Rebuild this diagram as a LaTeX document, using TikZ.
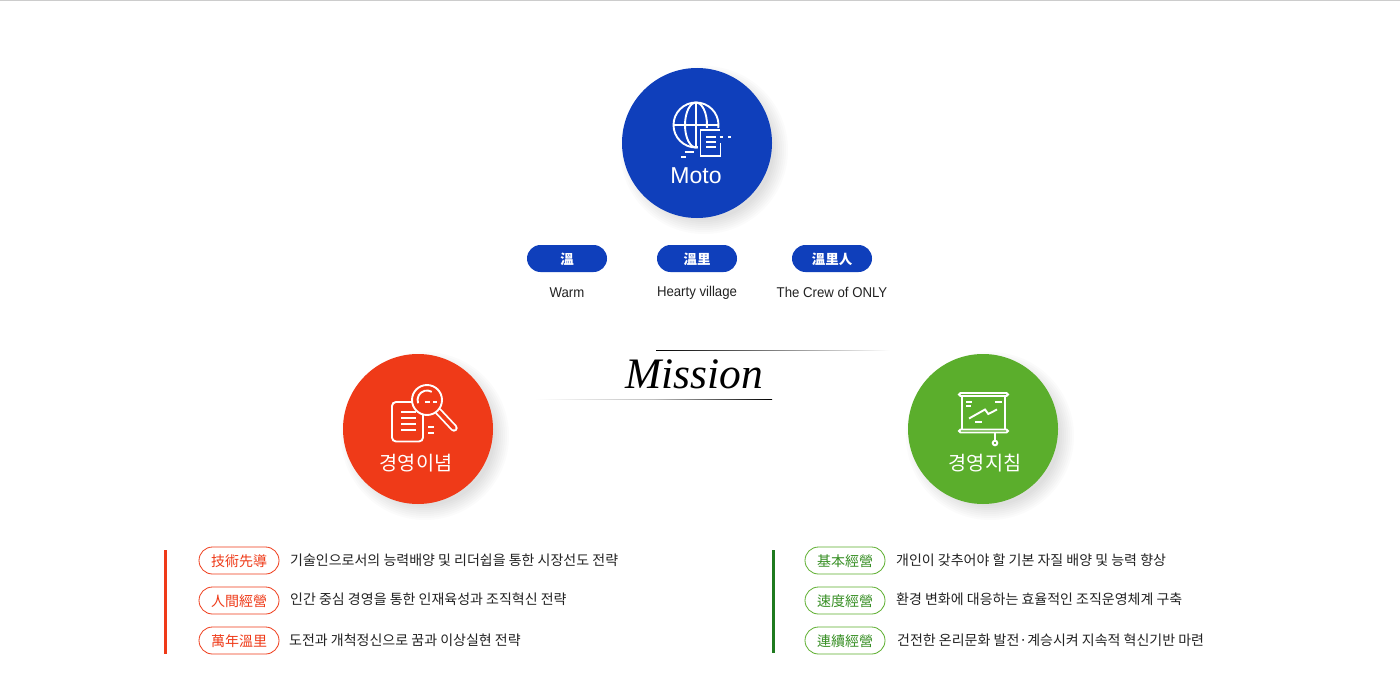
\documentclass[tikz,border=0pt]{standalone}
\usepackage{fontspec}
\setmainfont{Liberation Sans}
\newfontfamily\krfont{Noto Sans CJK KR}
\newfontfamily\misfont{Liberation Serif}
\newfontfamily\capfont[FakeStretch=0.93]{Liberation Sans}
\definecolor{mblue}{HTML}{0F3FBB}
\definecolor{mred}{HTML}{EF3A18}
\definecolor{mgreen}{HTML}{5BAE2C}
\definecolor{dgreen}{HTML}{1F7A1F}
\definecolor{tdark}{HTML}{222222}
\newcommand{\softshadow}[1]{%
  \foreach \rr in {70,72,...,84}{\fill[black,opacity=.016] ($(#1)+(7,7)$) circle[radius=\rr];}}
\usetikzlibrary{calc}
\tikzset{
  x=1pt,y=-1pt,
  bigcircle/.style={circle,minimum size=150pt,inner sep=0pt},
  title/.style={text=white,inner sep=0pt,font=\krfont\fontsize{19.7}{22}\selectfont},
  toppill/.style={rounded corners=13.5pt,fill=mblue,minimum width=80pt,minimum height=27pt,inner sep=0pt,text height=13.5pt,text depth=1.3pt,text=white,font=\krfont\bfseries\fontsize{13.5}{15}\selectfont},
  caption/.style={anchor=base,text=tdark,inner sep=0pt,font=\capfont\fontsize{14.2}{16}\selectfont},
  redpill/.style={rounded corners=13.5pt,draw=mred,fill=white,line width=.8pt,minimum width=80pt,minimum height=27pt,inner sep=0pt,text height=14pt,text depth=1.4pt,text=mred,font=\krfont\fontsize{14}{16}\selectfont},
  greenpill/.style={redpill,draw=mgreen,text=dgreen!60!mgreen},
  listtext/.style={anchor=west,text=tdark,inner sep=0pt,font=\krfont\fontsize{14}{16}\selectfont},
  ico/.style={draw=white,line width=1.9pt,fill=none},
  icod/.style={draw=white,line width=1.9pt},
}
\begin{document}
\begin{tikzpicture}
\useasboundingbox (0,0) rectangle (1400,677);
\fill[white] (0,0) rectangle (1400,677);
\fill[black!20] (0,0) rectangle (1400,1);
% circles
\coordinate (cmoto) at (697,143);
\coordinate (cred) at (418,429);
\coordinate (cgreen) at (983,429);
\softshadow{cmoto}\softshadow{cred}\softshadow{cgreen}
\node[bigcircle,fill=mblue] (moto) at (cmoto) {};
\node[bigcircle,fill=mred] (philo) at (cred) {};
\node[bigcircle,fill=mgreen] (guide) at (cgreen) {};
% globe icon
\coordinate (gl) at (696,125);
\draw[ico] (gl) circle[radius=22.5];
\draw[ico] (gl) circle[x radius=11,y radius=22.5];
\draw[ico] (696,102.5) -- (696,147.5);
\draw[ico] (673.5,125) -- (718.5,125);
\fill[mblue] (698,128) rectangle (724,160);
\draw[ico] (720,130) -- (700.5,130) -- (700.5,156) -- (720.5,156) -- (720.5,143);
\foreach \yy in {137,142,147}{\draw[icod] (706,\yy) -- (716,\yy);}
\draw[icod] (719.5,137) -- (722.5,137);
\draw[icod] (728,137) -- (731,137);
\draw[icod] (684.5,152) -- (694,152);
\draw[icod] (681,157) -- (686,157);
% magnifier icon
\draw[ico,rounded corners=4pt] (412,402) -- (392,402) -- (392,441.5) -- (423,441.5) -- (423,414);
\foreach \yy in {412,418,424,430}{\draw[icod] (401,\yy) -- (415.5,\yy);}
\draw[icod] (428,427) -- (434,427);
\draw[icod] (428,433) -- (434,433);
\draw[white,line width=7.4pt,line cap=round] (438,411) -- (454,428);
\draw[mred,line width=3.8pt,line cap=round] (438,411) -- (454,428);
\coordinate (mag) at (427,400);
\draw[ico,fill=mred] (mag) circle[radius=15];
\draw[ico] (mag) ++(-60:9.5) arc[start angle=-60,end angle=-200,radius=9.5];
\draw[icod] (425,402) -- (430,402);
\draw[icod] (433,402) -- (437,402);
% screen icon
\draw[ico] (962,396) -- (962,429) (1005,396) -- (1005,429);
\draw[ico,fill=mgreen,rounded corners=1.5pt] (959,393) rectangle (1008,396);
\draw[ico,fill=mgreen,rounded corners=1.5pt] (959,429.5) rectangle (1008,432.5);
\draw[ico] (995,433) -- (995,440.5);
\draw[ico] (995,443) circle[radius=2.3];
\draw[ico] (969,418.5) -- (985,409.5) -- (988.3,414) -- (997,409.5);
\draw[icod] (966,402) -- (972,402);
\draw[icod] (966,406) -- (971,406);
\draw[icod] (995,402) -- (1002,402);
\draw[icod] (975,422) -- (981.5,422);
% titles
\node[text=white,inner sep=0pt,font=\fontsize{23}{26}\selectfont] (motolabel) at (696,176) {Moto};
\node[title] (philolabel) at (416,463) {경영이념};
\node[title] (guidelabel) at (985,463) {경영지침};
% top pills
\node[toppill] (p1) at (567,258.5) {溫};
\node[toppill] (p2) at (697,258.5) {溫里};
\node[toppill] (p3) at (832,258.5) {溫里人};
\node[caption] (c1) at (567,297) {Warm};
\node[caption] (c2) at (697,296) {Hearty village};
\node[caption] (c3) at (832,297) {The Crew of ONLY};
% mission
\shade[left color=black,right color=white] (656,350) rectangle (890,350.8);
\shade[left color=white,right color=black,middle color=black!25] (535,399) rectangle (772,399.8);
\node[inner sep=0pt,text=black,font=\misfont\itshape\fontsize{43.5}{48}\selectfont] (mission) at (694,374) {Mission};
% side bars
\fill[mred] (164,550) rectangle (167,654);
\fill[dgreen] (772,550) rectangle (775,653);
% left list
\node[redpill] (l1) at (239,560.5) {技術先導};
\node[redpill] (l2) at (239,600.5) {人間經營};
\node[redpill] (l3) at (239,640.5) {萬年溫里};
\node[listtext] (lt1) at (290,560) {기술인으로서의 능력배양 및 리더쉽을 통한 시장선도 전략};
\node[listtext] (lt2) at (290,599) {인간 중심 경영을 통한 인재육성과 조직혁신 전략};
\node[listtext] (lt3) at (289,640) {도전과 개척정신으로 꿈과 이상실현 전략};
% right list
\node[greenpill] (r1) at (845,560.5) {基本經營};
\node[greenpill] (r2) at (845,600.5) {速度經營};
\node[greenpill] (r3) at (845,640.5) {連續經營};
\node[listtext] (rt1) at (896,560) {개인이 갖추어야 할 기본 자질 배양 및 능력 향상};
\node[listtext] (rt2) at (896,599) {환경 변화에 대응하는 효율적인 조직운영체계 구축};
\node[listtext] (rt3) at (897,640) {건전한 온리문화 발전·계승시켜 지속적 혁신기반 마련};
\end{tikzpicture}
\end{document}
